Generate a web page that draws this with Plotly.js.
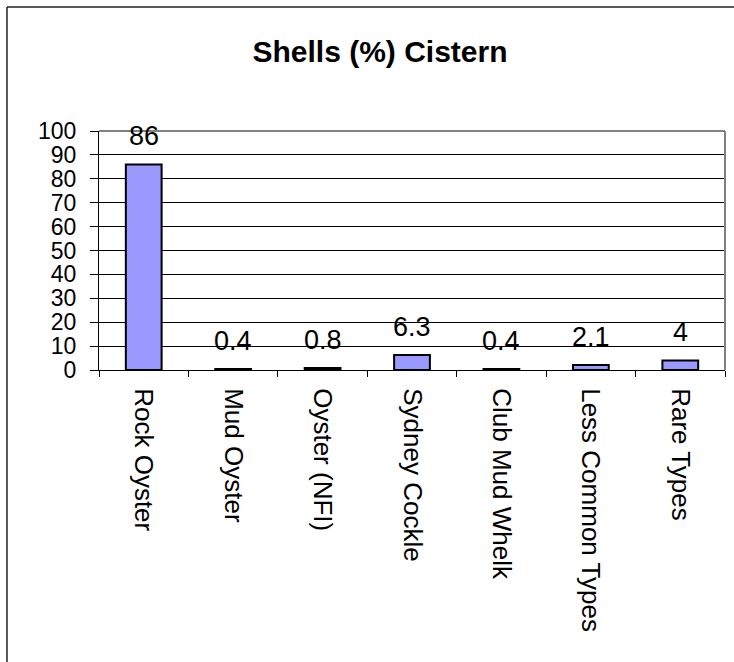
<!DOCTYPE html>
<html>
<head>
<meta charset="utf-8">
<script src="https://cdn.plot.ly/plotly-3.0.1.min.js"></script>
<style>
  html, body { margin: 0; padding: 0; background: #fff; }
  #chart { width: 734px; height: 662px; }
</style>
</head>
<body>
<div id="chart"></div>
<script>
const categories = ["Rock Oyster", "Mud Oyster", "Oyster (NFI)", "Sydney Cockle", "Club Mud Whelk", "Less Common Types", "Rare Types"];
const values = [86, 0.4, 0.8, 6.3, 0.4, 2.1, 4];
const valueLabels = ["86", "0.4", "0.8", "6.3", "0.4", "2.1", "4"];
const yTicks = [0, 10, 20, 30, 40, 50, 60, 70, 80, 90, 100];

const FONT = "Liberation Sans, Arial, sans-serif";

const trace = {
  type: "bar",
  x: categories,
  y: values,
  marker: { color: "#9999FF", line: { color: "#000000", width: 2 } },
  hoverinfo: "x+y"
};

const annotations = categories.map((c, i) => ({
  x: c, y: values[i], xref: "x", yref: "y",
  text: valueLabels[i], showarrow: false,
  yanchor: "bottom", xanchor: "center", yshift: 11,
  font: { family: FONT, size: 27, color: "#000" }
}));

const shapes = [
  { type: "line", xref: "paper", yref: "paper", x0: 0, x1: 1, y0: 1, y1: 1, line: { color: "#808080", width: 2 }, layer: "above" },
  { type: "line", xref: "paper", yref: "paper", x0: 1, x1: 1, y0: 0, y1: 1, line: { color: "#808080", width: 2 }, layer: "above" },
  { type: "line", xref: "paper", yref: "paper", x0: -0.147, x1: 1.06, y0: 1.519, y1: 1.519, line: { color: "#222", width: 1.5 } },
  { type: "line", xref: "paper", yref: "paper", x0: -0.147, x1: -0.147, y0: 1.519, y1: -1.3, line: { color: "#222", width: 1.5 } }
];

const layout = {
  width: 734, height: 662,
  margin: { l: 99, r: 9, t: 131, b: 292 },
  paper_bgcolor: "#fff", plot_bgcolor: "#fff",
  font: { family: FONT, color: "#000" },
  title: {
    text: "<b>Shells (%) Cistern</b>",
    font: { family: FONT, size: 30, color: "#000" },
    x: 380 / 734, xref: "container", xanchor: "center",
    y: 1 - 51 / 662, yref: "container", yanchor: "middle"
  },
  bargap: 0.6,
  showlegend: false,
  xaxis: {
    type: "category",
    tickangle: 90,
    tickson: "boundaries",
    ticks: "outside", ticklen: 6, tickcolor: "#000", tickwidth: 1,
    ticklabelstandoff: 12,
    showline: true, linecolor: "#000", linewidth: 1,
    showgrid: false,
    tickfont: { family: FONT, size: 26, color: "#000" },
    fixedrange: true
  },
  yaxis: {
    range: [0, 100],
    tickvals: yTicks,
    ticktext: yTicks.map(String),
    ticks: "outside", ticklen: 8, tickcolor: "#000", tickwidth: 1,
    ticklabelstandoff: 9,
    showline: true, linecolor: "#000", linewidth: 1,
    showgrid: true, gridcolor: "#000", gridwidth: 1,
    zeroline: false,
    tickfont: { family: FONT, size: 23, color: "#000" },
    fixedrange: true
  },
  annotations: annotations,
  shapes: shapes
};

Plotly.newPlot("chart", [trace], layout, { displayModeBar: false, staticPlot: true });
</script>
</body>
</html>
